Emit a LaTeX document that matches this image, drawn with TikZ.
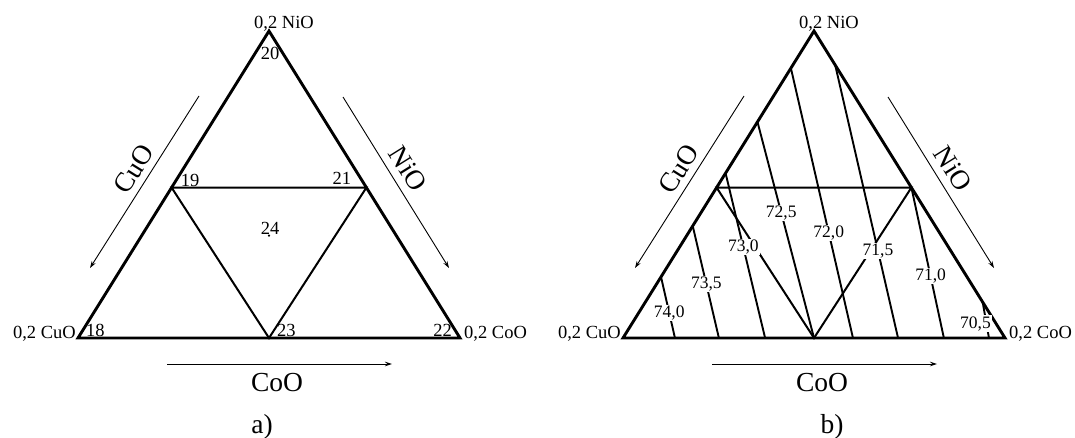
\documentclass[tikz,border=0pt]{standalone}
\usepackage{fontspec}
\setmainfont{Liberation Serif}
\usetikzlibrary{arrows.meta,calc}
\tikzset{
  edge/.style={line width=2.9pt},
  inner/.style={line width=2pt},
  iso/.style={line width=1.9pt},
  dir/.style={line width=0.9pt,-{Stealth[length=7pt,width=4.5pt]}},
  corner/.style={font=\fontsize{18.5}{18.5}\selectfont,inner sep=0pt},
  num/.style={font=\fontsize{18.5}{18.5}\selectfont,inner sep=0pt},
  isolbl/.style={font=\fontsize{17.5}{17.5}\selectfont,fill=white,inner sep=1pt},
  oxide/.style={font=\fontsize{27.5}{27.5}\selectfont,inner sep=0pt},
  dot/.style={circle,fill,inner sep=0pt,minimum size=2.4pt}
}

\begin{document}
\begin{tikzpicture}[x=1pt,y=-1pt]
  \useasboundingbox (0,0) rectangle (1075,438);
  \coordinate (La) at (78,338);
  \coordinate (Ra) at (460,338);
  \coordinate (Ta) at (269,31);
  \coordinate (Lb) at (623,338);
  \coordinate (Rb) at (1005,338);
  \coordinate (Tb) at (814,31);

  % common frame of a) and b)
  \foreach \dx/\side/\capx in {0/a/262,545/b/287}{
    \coordinate (ML\side) at ($(L\side)!0.49!(T\side)$);
    \coordinate (MR\side) at ($(R\side)!0.49!(T\side)$);
    \coordinate (MB\side) at ($(L\side)!0.5!(R\side)$);
    \draw[inner] (ML\side) -- (MR\side) -- (MB\side) -- cycle;
    \draw[edge] (L\side) -- (R\side) -- (T\side) -- cycle;
    \node[corner,anchor=base east] (cu\side) at ($(L\side)+(-2,0)$) {0,2 CuO};
    \node[corner,anchor=base west] (co\side) at ($(R\side)+(4,0)$) {0,2 CoO};
    \node[corner,anchor=base] (ni\side) at ($(T\side)+(15,-2)$) {0,2 NiO};
    \begin{scope}[xshift=\dx]
      \draw[dir] (199,96) -- (90,268);
      \draw[dir] (343,97) -- (449,268);
      \draw[dir] (167,364) -- (392,364);
      \node[oxide,rotate=58] (cuo\side) at (134,169) {CuO};
      \node[oxide,rotate=-58] (nio\side) at (408,169) {NiO};
      \node[oxide,anchor=base] (coo\side) at (277,391) {CoO};
      \node[oxide,anchor=base] (cap\side) at (\capx,433) {\side)};
    \end{scope}
  }

  % a) points
  \node[num,anchor=base west] (n18) at ($(La)+(8,-2)$) {18};
  \node[num,anchor=base west] (n19) at ($(MLa)+(9,-1)$) {19};
  \node[num,anchor=base] (n20) at ($(Ta)+(1,29)$) {20};
  \node[num,anchor=base east] (n21) at ($(MRa)+(-15,-3)$) {21};
  \node[num,anchor=base east] (n22) at ($(Ra)+(-8,-2)$) {22};
  \node[num,anchor=base west] (n23) at ($(MBa)+(8,-2)$) {23};
  \node[dot] (p24) at ($(MBa)!1/3!(Ta)$) {};
  \node[num,anchor=base] (n24) at ($(p24)+(1,-1)$) {24};

  % b) isolines
  \draw[iso] ($(Lb)!0.199!(Tb)$) -- node[isolbl,pos=0.59] (v740) {74,0} ($(Lb)!0.136!(Rb)$);
  \draw[iso] ($(Lb)!0.365!(Tb)$) -- node[isolbl,pos=0.52] (v735) {73,5} ($(Lb)!0.251!(Rb)$);
  \draw[iso] ($(Lb)!0.537!(Tb)$) -- node[isolbl,pos=0.45] (v730) {73,0} ($(Lb)!0.372!(Rb)$);
  \draw[iso] ($(Lb)!0.704!(Tb)$) -- node[isolbl,pos=0.42] (v725) {72,5} (MBb);
  \draw[iso] ($(Lb)!0.879!(Tb)$) -- node[isolbl,pos=0.61] (v720) {72,0} ($(Lb)!0.602!(Rb)$);
  \draw[iso] ($(Rb)!0.889!(Tb)$) -- node[isolbl,pos=0.68] (v715) {71,5} ($(Lb)!0.72!(Rb)$);
  \draw[iso] (MRb) -- node[isolbl,pos=0.59] (v710) {71,0} ($(Lb)!0.84!(Rb)$);
  \draw[iso] ($(Rb)!0.117!(Tb)$) -- node[isolbl,pos=0.6,xshift=-11pt] (v705) {70,5} ($(Lb)!0.958!(Rb)$);
\end{tikzpicture}
\end{document}
